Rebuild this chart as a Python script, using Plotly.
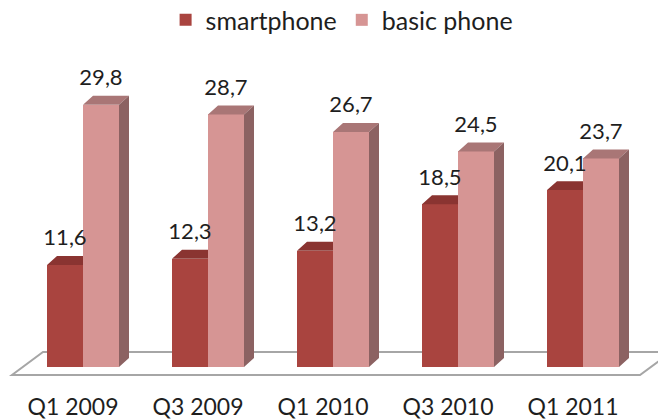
import plotly.graph_objects as go

categories = ["Q1 2009", "Q3 2009", "Q1 2010", "Q3 2010", "Q1 2011"]
smartphone = [11.6, 12.3, 13.2, 18.5, 20.1]
basic_phone = [29.8, 28.7, 26.7, 24.5, 23.7]
series_names = ["smartphone", "basic phone"]

FRONT = ["#A9443F", "#D69594"]
TOP = ["#8A3431", "#A97676"]
SIDE = ["#6E2A28", "#8C6262"]

W = 0.288      # bar width (x units)
DX = 0.08      # depth offset x
DY = 1.02      # depth offset y
FONT = "Lato, 'Open Sans', sans-serif"

pos = list(range(len(categories)))
fig = go.Figure()

# floor (decoration)
n = len(categories)
fig.add_shape(type="path",
              path=f"M -0.568,-0.91 L {n-1+0.456},-0.91 L {n-1+0.704},1.7 L -0.32,1.7 Z",
              xref="x", yref="y", fillcolor="white",
              line=dict(color="#A6A6A6", width=2), layer="below")

series = [smartphone, basic_phone]
offsets = [-W, 0.0]
for k, vals in enumerate(series):
    fig.add_trace(go.Bar(x=pos, y=vals, width=[W]*n, offset=[offsets[k]]*n,
                         marker=dict(color=FRONT[k], line=dict(width=0)),
                         name=series_names[k], hoverinfo="skip"))

# 3D faces derived from data
for k, vals in enumerate(series):
    tx, ty, sx, sy = [], [], [], []
    for i, h in enumerate(vals):
        x0 = pos[i] + offsets[k]
        x1 = x0 + W
        nxt = series[k+1][i] if k + 1 < len(series) else None
        if nxt is not None and nxt > h:
            tx += [x0, x1, x1, x0 + DX, x0, None]
            ty += [h, h, h + DY, h + DY, h, None]
        else:
            tx += [x0, x1, x1 + DX, x0 + DX, x0, None]
            ty += [h, h, h + DY, h + DY, h, None]
            sx += [x1, x1 + DX, x1 + DX, x1, x1, None]
            sy += [0, DY, h + DY, h, 0, None]
    fig.add_trace(go.Scatter(x=tx, y=ty, fill="toself", fillcolor=TOP[k], mode="lines",
                             line=dict(width=0), showlegend=False, hoverinfo="skip"))
    if sx:
        fig.add_trace(go.Scatter(x=sx, y=sy, fill="toself", fillcolor=SIDE[k], mode="lines",
                                 line=dict(width=0), showlegend=False, hoverinfo="skip"))
    fig.add_trace(go.Scatter(x=[p + offsets[k] + W/2 for p in pos],
                             y=[v + 2.85 for v in vals],
                             text=[f"{v:.1f}".replace(".", ",") for v in vals],
                             mode="text", textposition="middle center",
                             textfont=dict(family=FONT, size=22, color="#1E1E1E"),
                             showlegend=False, hoverinfo="skip", cliponaxis=False))

fig.update_layout(
    width=659, height=420,
    margin=dict(l=8, r=1, t=59, b=42, autoexpand=False),
    paper_bgcolor="white", plot_bgcolor="white",
    bargap=0, barmode="overlay",
    font=dict(family=FONT, size=23, color="#1E1E1E"),
    legend=dict(orientation="h", x=0.514, xanchor="center", y=1.122, yanchor="middle",
                font=dict(size=25), itemclick=False,
                traceorder="normal", itemwidth=30),
    xaxis=dict(range=[-0.6, 4.6], tickvals=[p - 0.08 for p in pos], ticktext=categories,
               showgrid=False, zeroline=False, showline=False, automargin=False,
               ticks="outside", ticklen=8, tickcolor="rgba(0,0,0,0)",
               tickfont=dict(size=23)),
    yaxis=dict(range=[-1.25, 35.0], visible=False, showgrid=False, zeroline=False,
               automargin=False),
)

fig.write_html("out.html", config={"displayModeBar": False},
               post_script="document.body.style.margin='0';document.body.style.overflow='hidden';")
